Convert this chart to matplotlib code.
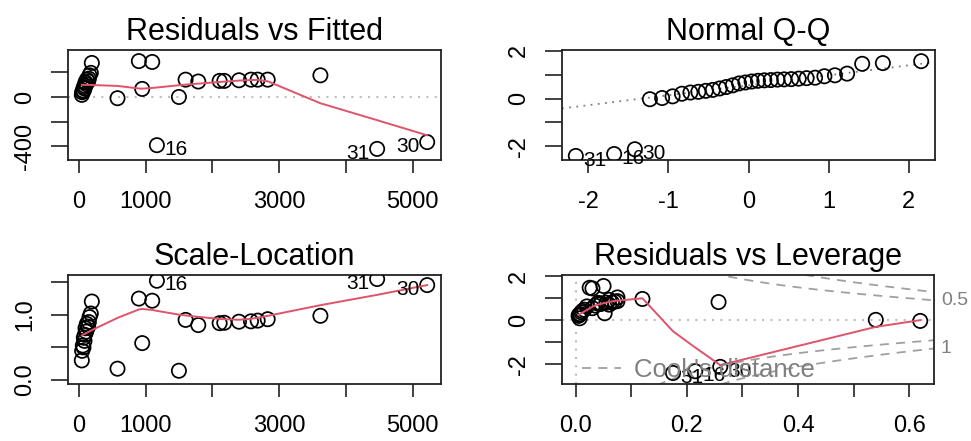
import numpy as np
import matplotlib.pyplot as plt
from statistics import NormalDist

plt.rcParams['font.family'] = ['Liberation Sans', 'DejaVu Sans']

# Diagnostics of the fitted model, one entry per observation (1..32)
obs_id = np.arange(1, 33)
fitted = np.array([195, 180, 900, 160, 150, 1100, 120, 950, 140, 580,
                   100, 110, 1600, 90, 1790, 1170, 75, 1500, 2110, 85,
                   2180, 60, 2400, 70, 2580, 50, 2680, 45, 2830, 5220,
                   4470, 3620])
resid = np.array([275, 195, 290, 175, 148, 283, 140, 65, 126, -10,
                  118, 104, 140, 90, 125, -390, 80, 0, 130, 68,
                  130, 53, 135, 47, 140, 38, 140, 17, 140, -365,
                  -420, 175])
std_resid = np.array([1.45, 1.04, 1.56, 0.93, 0.79, 1.48, 0.74, 0.32, 0.67, -0.03,
                      0.63, 0.55, 0.85, 0.48, 0.71, -2.32, 0.42, 0.02, 0.76, 0.36,
                      0.77, 0.28, 0.80, 0.25, 0.81, 0.20, 0.83, 0.09, 0.87, -2.12,
                      -2.40, 0.97])
leverage = np.array([0.030, 0.075, 0.050, 0.060, 0.040, 0.025, 0.045, 0.052, 0.035, 0.620,
                     0.020, 0.030, 0.070, 0.015, 0.060, 0.215, 0.012, 0.540, 0.040, 0.010,
                     0.045, 0.008, 0.055, 0.006, 0.065, 0.005, 0.257, 0.007, 0.075, 0.260,
                     0.175, 0.120])
n_params = 3
cook_levels = [0.5, 1.0]
n_id = 3

RED = '#DF536B'
GRAY = '#A0A0A0'


def lowess(x, y, f=2/3, iters=3):
    order = np.argsort(x, kind='stable')
    xs, ys = x[order].astype(float), y[order].astype(float)
    n = len(xs)
    ns = max(min(int(f * n + 1e-7), n), 2)
    rw = np.ones(n)
    fit = np.zeros(n)
    for it in range(iters + 1):
        for i in range(n):
            d = np.abs(xs - xs[i])
            h = np.sort(d)[ns - 1]
            if h > 0:
                u = d / h
                w = np.where(u < 0.999, (1 - u ** 3) ** 3, 0.0)
                w[u <= 0.001] = 1.0
            else:
                w = (d == 0).astype(float)
            w = w * rw
            wn = w / w.sum()
            a = np.sum(wn * xs)
            b = np.sum(wn * (xs - a) ** 2)
            if np.sqrt(b) > 0.001 * (xs[-1] - xs[0]):
                fit[i] = np.sum(wn * ys * (1 + (xs[i] - a) * (xs - a) / b))
            else:
                fit[i] = np.sum(wn * ys)
        if it < iters:
            res = np.abs(ys - fit)
            u = res / (6 * np.median(res))
            rw = np.where(u < 0.999, (1 - u ** 2) ** 2, 0.0)
            rw[u <= 0.001] = 1.0
    return xs, fit


def extend(lo, hi, f):
    d = (hi - lo) * f
    return lo - d, hi + d


def style(ax, title, xticks, xlabels, yticks, ylabels, xlim, ylim):
    ax.set_xlim(*extend(*xlim, 0.04))
    ax.set_ylim(*extend(*ylim, 0.04))
    ax.set_title(title, fontsize=22, pad=7)
    ax.set_xticks(xticks)
    ax.set_xticklabels(xlabels)
    ax.set_yticks(yticks)
    ax.set_yticklabels(ylabels, rotation=90, va='center')
    ax.tick_params(axis='x', length=9.5, width=1.3, pad=13, labelsize=17, color='#333333')
    ax.tick_params(axis='y', length=12, width=1.3, pad=11, labelsize=17, color='#333333')
    for s in ax.spines.values():
        s.set_linewidth(1.3)
        s.set_color('#222222')


def points(ax, x, y):
    ax.scatter(x, y, s=105, facecolors='none', edgecolors='black', linewidths=1.25, zorder=3)


def smooth(ax, x, y):
    xs, ys = lowess(x, y)
    ax.plot(xs, ys, color=RED, lw=1.4, zorder=4)


def label_points(ax, x, y, idx):
    mid = np.mean(ax.get_xlim())
    for i in idx:
        right = x[i] <= mid
        ax.annotate(str(obs_id[i]), (x[i], y[i]), xytext=(5.5 if right else -5.5, -3),
                    textcoords='offset points', ha='left' if right else 'right',
                    va='center', fontsize=15, annotation_clip=False, zorder=5)


fig = plt.figure(figsize=(9.71, 4.41), dpi=100)
W, H = 971, 441


def box(x0, y0, x1, y1):
    return [x0 / W, 1 - y1 / H, (x1 - x0) / W, (y1 - y0) / H]


ax_rf = fig.add_axes(box(68, 50, 441, 160))
ax_qq = fig.add_axes(box(562, 50, 935, 160))
ax_sl = fig.add_axes(box(68, 275, 441, 384))
ax_rl = fig.add_axes(box(562, 275, 934, 384))

fit_ticks = [0, 1000, 2000, 3000, 4000, 5000]
fit_labels = ['0', '1000', '', '3000', '', '5000']
fit_range = (fitted.min(), fitted.max())

# Residuals vs Fitted
style(ax_rf, 'Residuals vs Fitted', fit_ticks, fit_labels,
      [-400, -200, 0, 200], ['-400', '', '0', ''],
      fit_range, extend(resid.min(), resid.max(), 0.08))
ax_rf.axhline(0, color='#BEBEBE', lw=1.5, ls=(0, (1, 3)), zorder=1)
points(ax_rf, fitted, resid)
smooth(ax_rf, fitted, resid)
label_points(ax_rf, fitted, resid, np.argsort(-np.abs(resid))[:n_id])

# Normal Q-Q
n = len(std_resid)
nd = NormalDist()
order = np.argsort(std_resid)
theo = np.array([nd.inv_cdf((i + 0.5) / n) for i in range(n)])
qq_x = np.empty(n)
qq_x[order] = theo
qlo, qhi = std_resid.min(), std_resid.max()
style(ax_qq, 'Normal Q-Q', [-2, -1, 0, 1, 2], ['-2', '-1', '0', '1', '2'],
      [-2, -1, 0, 1, 2], ['-2', '', '0', '', '2'],
      (theo.min(), theo.max()), (qlo, qhi + (qhi - qlo) * 0.075))
yq = np.quantile(std_resid, [0.25, 0.75])
xq = np.array([nd.inv_cdf(0.25), nd.inv_cdf(0.75)])
slope = (yq[1] - yq[0]) / (xq[1] - xq[0])
ax_qq.axline((xq[0], yq[0]), slope=slope, color='#7F7F7F', lw=1.3, ls=(0, (1, 3)), zorder=1)
points(ax_qq, qq_x, std_resid)
label_points(ax_qq, qq_x, std_resid, np.argsort(-np.abs(std_resid))[:n_id])

# Scale-Location
root_abs = np.sqrt(np.abs(std_resid))
style(ax_sl, 'Scale-Location', fit_ticks, fit_labels,
      [0.0, 0.5, 1.0, 1.5], ['0.0', '', '1.0', ''],
      fit_range, (0, root_abs.max()))
points(ax_sl, fitted, root_abs)
smooth(ax_sl, fitted, root_abs)
label_points(ax_sl, fitted, root_abs, np.argsort(-root_abs)[:n_id])

# Residuals vs Leverage
cook = std_resid ** 2 * leverage / (n_params * (1 - leverage))
style(ax_rl, 'Residuals vs Leverage', np.arange(0, 0.61, 0.1),
      ['0.0', '', '0.2', '', '0.4', '', '0.6'],
      [-2, -1, 0, 1, 2], ['-2', '', '0', '', '2'],
      (0, leverage.max()), extend(std_resid.min(), std_resid.max(), 0.08))
ax_rl.axhline(0, color='#BEBEBE', lw=1.5, ls=(0, (1, 3)), zorder=1)
ax_rl.axvline(0, color='#BEBEBE', lw=1.5, ls=(0, (1, 3)), zorder=1)
points(ax_rl, leverage, std_resid)
smooth(ax_rl, leverage, std_resid)

xl, yl = ax_rl.get_xlim(), ax_rl.get_ylim()
hh = np.linspace(min(leverage.min(), leverage.max() / 100), xl[1], 101)
for crit in cook_levels:
    cl_h = np.sqrt(crit * n_params * (1 - hh) / hh)
    ax_rl.plot(hh, cl_h, color=GRAY, lw=1.3, ls=(0, (5, 4)), zorder=2)
    ax_rl.plot(hh, -cl_h, color=GRAY, lw=1.3, ls=(0, (5, 4)), zorder=2)
ax_rl.set_xlim(xl)
ax_rl.set_ylim(yl)
ax_rl.plot([], [], color=GRAY, lw=1.3, ls=(0, (5, 4)), label="Cook's distance")
ax_rl.legend(loc='lower left', bbox_to_anchor=(0.055, 0.02), frameon=False,
             fontsize=18.5, labelcolor='gray', handlelength=1.5, handletextpad=0.5,
             borderaxespad=0.0, borderpad=0.0)
label_points(ax_rl, leverage, std_resid, np.argsort(-cook)[:n_id])

# contour levels marked on the right side, skipping labels that would overlap
xmax = min(0.99, xl[1])
aty = np.sqrt(cook_levels) * np.sqrt(n_params * (1 - xmax) / xmax)
at_pos = np.concatenate([-aty[::-1], aty])
at_lab = [f'{c:g}' for c in cook_levels[::-1] + cook_levels]
last = None
for y, lab in zip(at_pos, at_lab):
    py = ax_rl.transData.transform((0, y))[1]
    if last is not None and abs(py - last) < 20:
        continue
    last = py
    ax_rl.annotate(lab, (1, y), xycoords=('axes fraction', 'data'), xytext=(5, 0),
                   textcoords='offset points', ha='left', va='center',
                   fontsize=14, color='gray', annotation_clip=False)

fig.savefig('out.png', dpi=100)
